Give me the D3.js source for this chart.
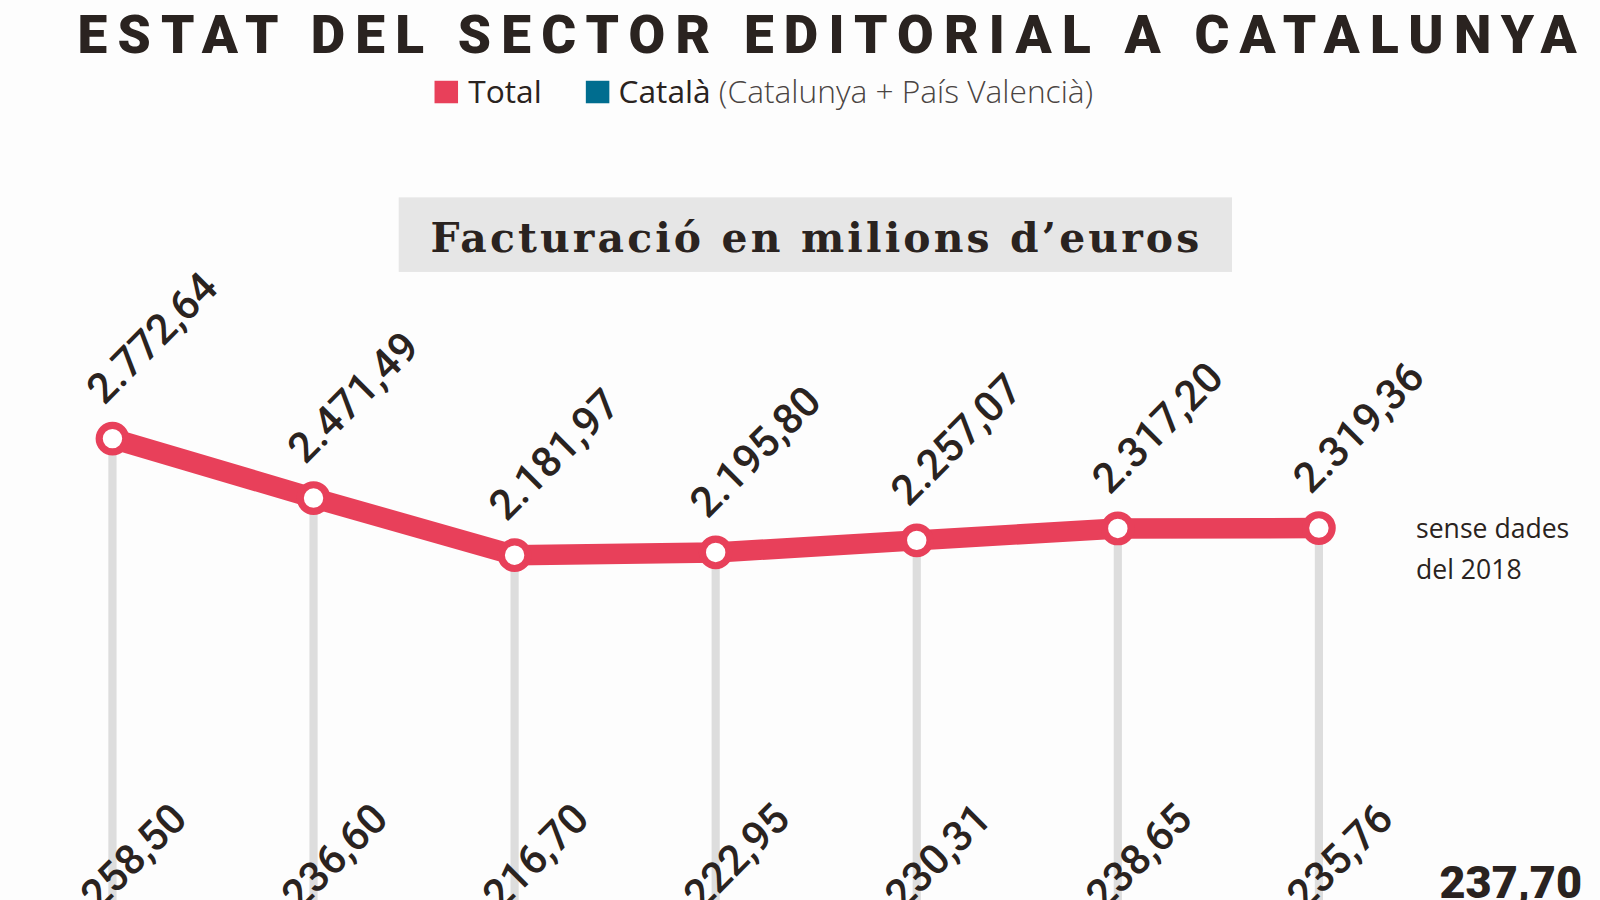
<!DOCTYPE html>
<html><head><meta charset="utf-8">
<script src="https://cdn.jsdelivr.net/npm/d3@7"></script>
<style>body{margin:0;background:#fdfdfd;overflow:hidden}</style>
</head><body>
<svg id="c" width="1600" height="900"></svg>
<script>
const years = ["2011","2012","2013","2014","2015","2016","2017"];
const totalValues = [2772.64, 2471.49, 2181.97, 2195.80, 2257.07, 2317.20, 2319.36];
const catalaValues = [258.50, 236.60, 216.70, 222.95, 230.31, 238.65, 235.76];
const catala2018 = 237.70;
const fmt = v => v.toLocaleString("es-ES",{minimumFractionDigits:2,maximumFractionDigits:2,useGrouping:"always"});

const svg = d3.select("#c").append("g").attr("transform","scale(1.0224)");
const red = "#e8405a", dark = "#2a2320";
const x = d3.scalePoint().domain(years).range([110, 1290]);
const y = d3.scaleLinear().domain([2181.97, 2772.64]).range([543, 429]);

svg.append("text").attr("x", 814).attr("y", 52).attr("text-anchor","middle")
  .attr("font-family","Roboto, sans-serif").attr("font-weight",900).attr("font-size",52)
  .attr("letter-spacing",10).attr("fill",dark).text("ESTAT DEL SECTOR EDITORIAL A CATALUNYA");

const lg = svg.append("g").attr("font-family","Open Sans, sans-serif").attr("font-size",31);
lg.append("rect").attr("x",425).attr("y",79).attr("width",23).attr("height",22).attr("fill",red);
lg.append("text").attr("x",458).attr("y",101).attr("fill",dark).text("Total");
lg.append("rect").attr("x",573).attr("y",79).attr("width",23).attr("height",22).attr("fill","#006d8f");
const lt = lg.append("text").attr("x",605).attr("y",101).attr("fill",dark);
lt.append("tspan").text("Català ");
lt.append("tspan").attr("font-weight",300).attr("fill","#4a4442").text("(Catalunya + País Valencià)");

svg.append("rect").attr("x",390).attr("y",193).attr("width",815).attr("height",73).attr("fill","#e6e6e6");
svg.append("text").attr("x",797).attr("y",246).attr("text-anchor","middle")
  .attr("font-family","DejaVu Serif, serif").attr("font-weight",700).attr("font-size",40)
  .attr("textLength",752).attr("fill",dark).text("Facturació en milions d’euros");

svg.selectAll("line.g").data(years).join("line")
  .attr("x1",d=>x(d)).attr("x2",d=>x(d)).attr("y1",(d,i)=>y(totalValues[i])).attr("y2",900)
  .attr("stroke","#dddddd").attr("stroke-width",8);

svg.append("path").datum(totalValues)
  .attr("d", d3.line().x((d,i)=>x(years[i])).y(d=>y(d)))
  .attr("fill","none").attr("stroke",red).attr("stroke-width",20).attr("stroke-linejoin","round");

svg.selectAll("circle").data(totalValues).join("circle")
  .attr("cx",(d,i)=>x(years[i])).attr("cy",d=>y(d)).attr("r",13)
  .attr("fill","#fff").attr("stroke",red).attr("stroke-width",7);

svg.selectAll("text.t").data(totalValues).join("text")
  .attr("transform",(d,i)=>`translate(${x(years[i])-8},${y(d)-32}) rotate(-45)`)
  .attr("font-family","Roboto, sans-serif").attr("font-weight",500).attr("font-size",41)
  .attr("fill",dark).text(d=>fmt(d));

svg.selectAll("text.c").data(catalaValues).join("text")
  .attr("transform",(d,i)=>`translate(${x(years[i])-14},${892}) rotate(-45)`)
  .attr("font-family","Roboto, sans-serif").attr("font-weight",500).attr("font-size",41)
  .attr("fill",dark).text(d=>fmt(d));

svg.append("text").attr("x",1408).attr("y",878)
  .attr("font-family","Roboto, sans-serif").attr("font-weight",900).attr("font-size",44)
  .attr("fill",dark).text(fmt(catala2018));

const sd = svg.append("text").attr("font-family","Open Sans, sans-serif").attr("font-size",26).attr("fill",dark);
sd.append("tspan").attr("x",1385).attr("y",526).text("sense dades");
sd.append("tspan").attr("x",1385).attr("y",566).text("del 2018");
</script>
</body></html>
